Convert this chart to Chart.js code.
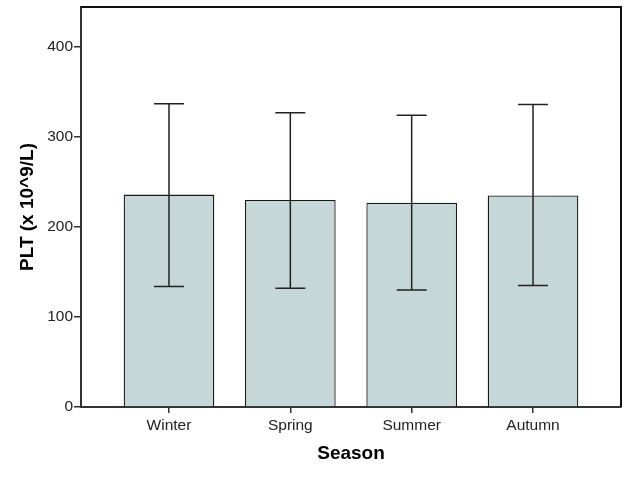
<!DOCTYPE html>
<html>
<head>
<meta charset="utf-8">
<script src="https://cdn.jsdelivr.net/npm/chart.js@4/dist/chart.umd.min.js"></script>
<style>
  html, body { margin: 0; padding: 0; background: #fff; }
  #wrap { width: 629px; height: 480px; }
</style>
</head>
<body>
<div id="wrap"><canvas id="pltChart" width="629" height="480"></canvas></div>
<script>
const seasons = ["Winter", "Spring", "Summer", "Autumn"];
const meanPlt = [236, 230, 227, 235];
const upperPlt = [337, 327, 324, 336];
const lowerPlt = [134, 132, 130, 135];
const yTicks = [0, 100, 200, 300, 400];

const axisColor = "#333";
const fontFamily = "'Liberation Sans', Arial, sans-serif";

// frame on top/right plus the error bars
const framePlugin = {
  id: "frame",
  afterDatasetsDraw(chart) {
    const { ctx, chartArea, scales } = chart;
    const x = scales.x, y = scales.y;
    ctx.save();
    ctx.strokeStyle = "#222";
    ctx.lineWidth = 1.5;
    seasons.forEach((s, i) => {
      const cx = x.getPixelForValue(i);
      const top = y.getPixelForValue(upperPlt[i]);
      const bot = y.getPixelForValue(lowerPlt[i]);
      ctx.beginPath();
      ctx.moveTo(cx, top);
      ctx.lineTo(cx, bot);
      ctx.moveTo(cx - 15, top);
      ctx.lineTo(cx + 15, top);
      ctx.moveTo(cx - 15, bot);
      ctx.lineTo(cx + 15, bot);
      ctx.stroke();
    });
    ctx.strokeStyle = "#111";
    ctx.lineWidth = 2;
    ctx.beginPath();
    ctx.moveTo(chartArea.left, chartArea.top);
    ctx.lineTo(chartArea.right, chartArea.top);
    ctx.lineTo(chartArea.right, chartArea.bottom);
    ctx.stroke();
    ctx.restore();
  }
};

const ctx = document.getElementById("pltChart").getContext("2d");
new Chart(ctx, {
  type: "bar",
  data: {
    datasets: [{
      data: seasons.map((s, i) => ({ x: i, y: meanPlt[i] })),
      backgroundColor: "#c5d8d7",
      borderColor: "#1a1a1a",
      borderWidth: 1.3,
      categoryPercentage: 1,
      barPercentage: 0.747
    }]
  },
  plugins: [framePlugin],
  options: {
    responsive: false,
    animation: false,
    layout: { padding: { top: 7, right: 8, left: 0, bottom: 0 } },
    plugins: { legend: { display: false }, tooltip: { enabled: false } },
    scales: {
      x: {
        type: "linear",
        offset: false,
        min: -0.725,
        max: 3.725,
        afterBuildTicks: (scale) => { scale.ticks = seasons.map((s, i) => ({ value: i })); },
        afterFit: (scale) => { scale.height = 73; },
        grid: { offset: false, drawOnChartArea: false, drawTicks: true, tickLength: 6, color: axisColor, lineWidth: 1.5 },
        border: { display: true, color: axisColor, width: 2 },
        ticks: {
          callback: (v) => seasons[v],
          color: "#222",
          font: { family: fontFamily, size: 15.5 },
          padding: 3,
          maxRotation: 0
        },
        title: {
          display: true,
          text: "Season",
          color: "#000",
          font: { family: fontFamily, size: 19, weight: "bold" },
          padding: { top: 4, bottom: 15 }
        }
      },
      y: {
        min: 0,
        max: 444.4,
        afterBuildTicks: (scale) => { scale.ticks = yTicks.map(v => ({ value: v })); },
        afterFit: (scale) => {
          scale.width = 81;
          scale.paddingTop = 0;
        },
        grid: { drawOnChartArea: false, drawTicks: true, tickLength: 7, color: axisColor, lineWidth: 1.5 },
        border: { display: true, color: axisColor, width: 2 },
        ticks: {
          color: "#222",
          font: { family: fontFamily, size: 15.5 },
          padding: 1
        },
        title: {
          display: true,
          text: "PLT (x 10^9/L)",
          color: "#000",
          font: { family: fontFamily, size: 19, weight: "bold" },
          padding: { top: 16, bottom: 4 }
        }
      }
    }
  }
});
</script>
</body>
</html>
